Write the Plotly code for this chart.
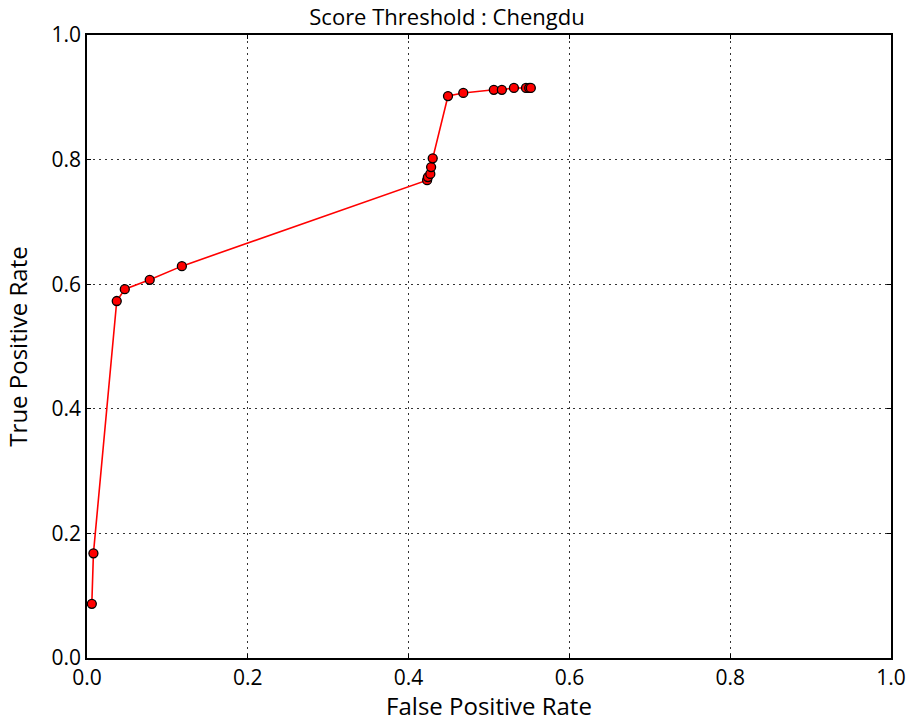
import plotly.graph_objects as go

fpr = [0.006, 0.008, 0.037, 0.047, 0.078, 0.118,
       0.423, 0.424, 0.427, 0.428, 0.430,
       0.449, 0.468, 0.506, 0.516, 0.531, 0.546, 0.550, 0.552]
tpr = [0.087, 0.168, 0.573, 0.592, 0.607, 0.629,
       0.767, 0.772, 0.777, 0.788, 0.802,
       0.902, 0.907, 0.912, 0.912, 0.915, 0.915, 0.915, 0.915]

tick_vals = [0.0, 0.2, 0.4, 0.6, 0.8, 1.0]
tick_text = ["0.0", "0.2", "0.4", "0.6", "0.8", "1.0"]

W, H = 909, 722

fig = go.Figure()
fig.add_trace(go.Scatter(
    x=fpr, y=tpr, mode="lines+markers",
    line=dict(color="#ff0000", width=1.6),
    marker=dict(color="#ff0000", size=9, line=dict(color="black", width=1.3)),
    showlegend=False, cliponaxis=False,
))

axis_common = dict(
    range=[0, 1], tickvals=tick_vals, ticktext=tick_text,
    showline=True, linecolor="black", linewidth=1.5, mirror="allticks",
    ticks="inside", ticklen=4, tickcolor="black",
    showgrid=True, gridcolor="#333333", griddash="2px,4px", gridwidth=1,
    zeroline=False, tickfont=dict(size=21, color="black"),
    ticklabeloverflow="allow", automargin=False,
)

fig.update_layout(
    width=W, height=H,
    margin=dict(l=87, r=18, t=35, b=64),
    paper_bgcolor="white", plot_bgcolor="white",
    font=dict(family="Open Sans", color="black"),
    title=dict(text="Score Threshold : Chengdu", x=447 / W, xanchor="center",
               y=1 - 17 / H, yanchor="middle", font=dict(size=22)),
    xaxis=dict(title=dict(text="False Positive Rate", font=dict(size=24), standoff=6),
               ticklabelstandoff=0, **axis_common),
    yaxis=dict(title=dict(text="True Positive Rate", font=dict(size=24), standoff=17),
               **axis_common),
)

fig.write_html("out.html", config={"displayModeBar": False},
               post_script="document.body.style.margin='0px';document.body.style.overflow='hidden';")
